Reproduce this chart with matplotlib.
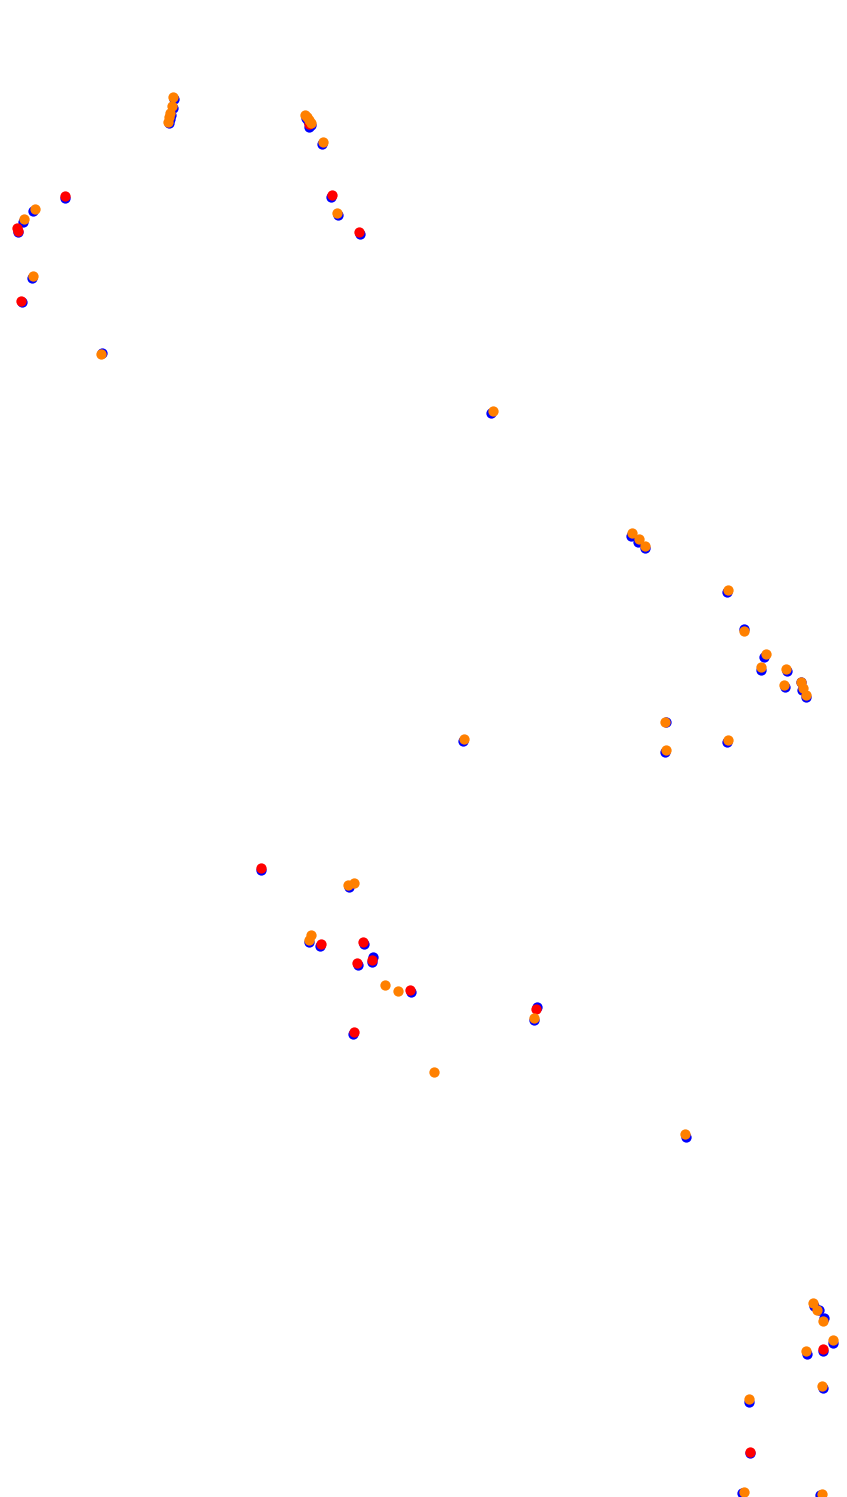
import matplotlib
matplotlib.use("Agg")
import matplotlib.pyplot as plt

# Blue series (x, y in chart units, y grows downward)
blue_x = [174, 173, 171, 170, 169, 306, 308, 309, 311, 322.3, 330.7, 337.7, 359.7,
          65.3, 33.3, 22.7, 17.7, 31.7, 21.7, 102, 491,
          630.7, 637.7, 645, 726.7, 744, 764.3, 761, 787.3, 785, 801, 802, 806, 666.3, 726.7, 665, 463,
          260.7, 348.7, 309, 319.7, 364, 358, 372.7, 372, 410.7, 536.7, 534.3, 353.3,
          686.3, 813.7, 818.7, 824, 833, 823, 807, 823, 749, 750, 742.3, 820]
blue_y = [99.3, 108, 115, 119, 123, 118, 121, 127, 125, 144, 196.7, 215, 234,
          198.3, 211, 221.7, 232, 278, 302.3, 353, 413.3,
          535.7, 542, 548.3, 592.3, 629, 656.7, 669.7, 670.7, 687.3, 681.7, 690, 697.3, 721.7, 742.3, 752.3, 741,
          870, 886.7, 942.3, 946.3, 944.3, 965, 957.3, 962, 992, 1007.3, 1020, 1034,
          1137.3, 1306, 1310, 1318.3, 1342.7, 1351, 1354.3, 1388.3, 1401.7, 1453.3, 1493.3, 1495.3]

# Red series
red_x = [309.3, 331.7, 359, 65.3, 17.3, 17.7, 20.7,
         260.7, 320.7, 363.3, 357, 372, 410, 535.7, 354,
         823, 750]
red_y = [124, 195, 231.7, 195.7, 228.3, 230.5, 300.7,
         868, 944, 942, 962.7, 960, 989.7, 1009, 1031.7,
         1349.3, 1452]

# Orange series
orange_x = [172.7, 172, 170, 169, 168.3, 305, 307.3, 309.3, 310.7, 323.3, 337, 35, 24, 32.7, 101, 492.7,
            631.7, 638.7, 645, 727.7, 743.7, 765.7, 760.7, 786, 783.7, 801, 803.3, 806, 665.3, 727.7, 666, 463.5,
            347.7, 354.3, 310.7, 309, 384.7, 397.7, 534.3, 433.7,
            685, 813, 817.3, 822.7, 833, 806, 822, 749, 743.7, 821.7]
orange_y = [97.3, 106, 113.3, 117.3, 121.7, 115, 116.7, 120, 122.7, 141.7, 212.7, 208.7, 219.3, 275.7, 354.3, 410.7,
            532.7, 538.7, 546, 590, 630.7, 654, 667.3, 669, 685, 682.3, 688.3, 695, 721.7, 740, 750, 738.5,
            884.7, 882.7, 934.7, 940, 984.7, 990.7, 1018, 1071.7,
            1134.3, 1303.3, 1310.3, 1321, 1340, 1351, 1386, 1399, 1491.7, 1494.3]

fig = plt.figure(figsize=(8.47, 14.97), dpi=100)
ax = fig.add_axes([0, 0, 1, 1])
ax.set_xlim(0, 847)
ax.set_ylim(1497, 0)
ax.axis("off")

s = 55
ax.scatter(blue_x, blue_y, s=s, c="#0000ff", linewidths=0, zorder=1)
ax.scatter(red_x, red_y, s=s, c="#ff0000", linewidths=0, zorder=2)
ax.scatter(orange_x, orange_y, s=s, c="#ff8000", linewidths=0, zorder=3)

fig.savefig("out.png", dpi=100, facecolor="white")
